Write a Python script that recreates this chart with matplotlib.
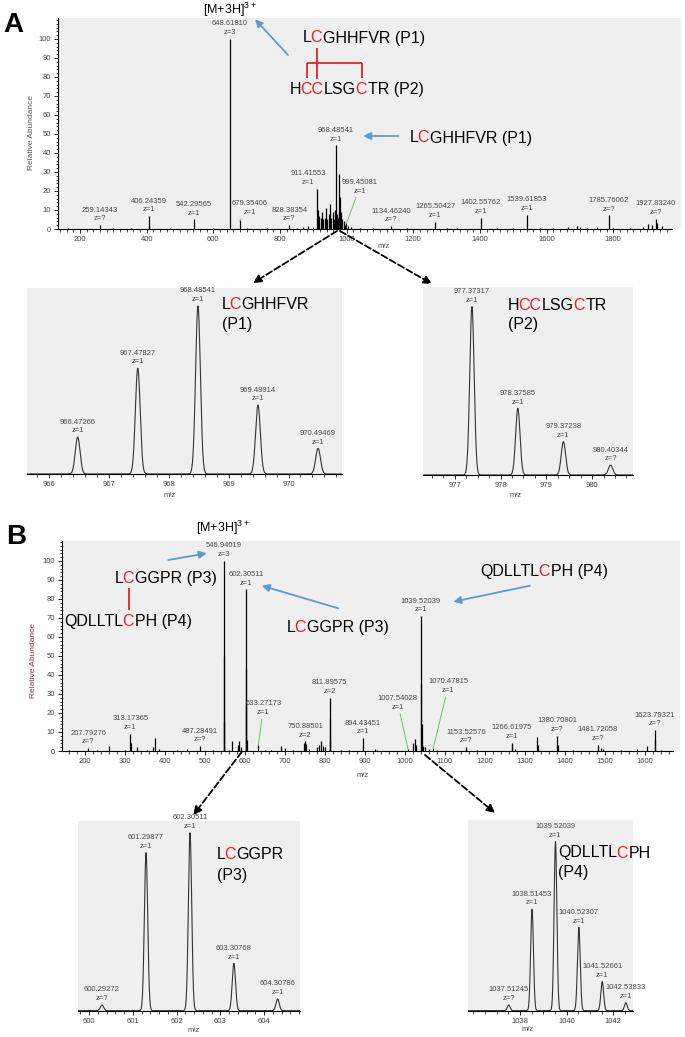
"""Two-panel MS figure: full scans with disulfide-linked peptides and isotope insets."""

import matplotlib

matplotlib.use("Agg")

import matplotlib.pyplot as plt  # noqa: E402
import numpy as np  # noqa: E402
from matplotlib.ticker import FixedLocator, MultipleLocator  # noqa: E402

plt.rcParams["font.family"] = ["Liberation Sans", "DejaVu Sans"]
plt.rcParams["mathtext.fontset"] = "custom"
plt.rcParams["mathtext.rm"] = "Liberation Sans"
plt.rcParams["mathtext.it"] = "Liberation Sans"

W, H = 685, 1037
RED = "#e8202a"
BLUE = "#5b9bd5"
GREEN = "#5cb85c"
BG = "#efefef"
LBL = "#4a4a4a"
SEQ_SIZE = 11.5

# ---- panel A, full scan ----
a_mz = [165, 259.14343, 300, 352, 406.24359, 407.2, 470, 542.29565, 600, 648.61810,
        679.35406, 700, 760, 828.38354, 850, 870, 885, 898,
        911.41553, 914, 918, 922, 926, 930, 934, 938, 942, 946, 950, 954, 958, 962,
        966, 968.48541, 971, 974, 977.37, 979.4, 983, 987, 991, 995, 999.45081,
        1005, 1012, 1040, 1080, 1134.46240, 1180, 1265.50427, 1300, 1330,
        1402.55762, 1450, 1500, 1539.61853, 1580, 1620, 1665, 1690, 1700, 1720,
        1750, 1785.76062, 1800, 1850, 1890, 1905, 1915, 1927.83240, 1932, 1945]
a_int = [0.5, 2, 0.5, 0.5, 6.7, 1.5, 0.5, 5, 0.5, 100,
         4.5, 0.5, 0.5, 2, 0.5, 1, 1.5, 1,
         21, 10, 7, 6, 9, 5, 6, 11, 5, 8, 13, 6, 9, 5,
         10, 44, 8, 6, 29, 17, 9, 5, 4, 2, 3,
         1.5, 1, 0.5, 0.5, 1.5, 0.5, 3.7, 0.5, 0.5,
         6, 0.5, 0.5, 7.6, 0.5, 0.5, 1, 1.5, 1, 0.5,
         1, 7.2, 0.5, 0.5, 1, 2.5, 2, 5.5, 3, 1.5]
a_label_mz = [259.14343, 406.24359, 542.29565, 648.61810, 679.35406, 828.38354,
              911.41553, 968.48541, 999.45081, 1134.46240, 1265.50427, 1402.55762,
              1539.61853, 1785.76062, 1927.83240]
a_label_z = ["?", "1", "1", "3", "1", "?", "1", "1", "1", "?", "1", "1", "1", "?", "?"]

# ---- panel A insets (isotope envelopes) ----
p1_mz = [966.47266, 967.47827, 968.48541, 969.48914, 970.49469]
p1_int = [22, 63, 100, 41, 15.3]
p1_z = ["1", "1", "1", "1", "1"]
p2_mz = [977.37317, 978.37585, 979.37238, 980.40344]
p2_int = [100, 39.6, 19.8, 5.9]
p2_z = ["1", "1", "1", "?"]

# ---- panel B, full scan ----
b_mz = [160, 207.79276, 230, 260, 300, 313.17365, 315, 330, 355, 370, 375, 385, 430,
        455, 487.28491, 520, 546.94019, 547.28, 547.61, 560, 568, 583, 586, 589,
        601.30, 602.30511, 603.31, 604.3, 633.27173, 650, 665, 690, 700, 720,
        748, 750.88501, 752, 760, 780, 785, 790, 795, 800, 811.89575, 812.4, 813,
        840, 860, 894.43451, 895.4, 925, 930, 1007.54028, 1020, 1025, 1027,
        1039.52039, 1040.52, 1041.5, 1045, 1050, 1060, 1070.47815, 1080,
        1153.52576, 1180, 1266.61975, 1268, 1275, 1330, 1332, 1380.70801, 1382,
        1420, 1481.72058, 1483, 1490, 1495, 1540, 1580, 1605, 1623.79321, 1625, 1640]
b_int = [0.5, 1.5, 0.5, 2.5, 0.5, 9, 4, 2, 0.5, 2, 7, 1, 0.5,
         1, 2.5, 0.5, 100, 50, 15, 0.5, 5, 3, 5, 2,
         43, 85, 24, 6, 3, 0.5, 0.5, 2.5, 1.5, 0.5,
         4, 5, 3.5, 1, 2, 3, 5, 2.5, 2, 28, 17, 5,
         0.5, 0.5, 6.7, 2, 1, 0.5, 1, 4, 6.5, 3,
         71, 35, 14, 2.5, 2, 1, 1.5, 0.5,
         2, 0.5, 4.4, 3, 1, 7.5, 3, 8, 3,
         0.5, 3.2, 1.5, 1.5, 1, 0.5, 1, 2.5, 11, 6, 0.5]
b_label_mz = [207.79276, 313.17365, 487.28491, 546.94019, 602.30511, 633.27173,
              750.88501, 811.89575, 894.43451, 1007.54028, 1039.52039, 1070.47815,
              1153.52576, 1266.61975, 1380.70801, 1481.72058, 1623.79321]
b_label_z = ["?", "1", "?", "3", "1", "1", "2", "2", "1", "1", "1", "1",
             "?", "1", "?", "?", "?"]

# ---- panel B insets ----
p3_mz = [600.29272, 601.29877, 602.30511, 603.30768, 604.30786]
p3_int = [3.2, 88.8, 100, 26.6, 6.6]
p3_z = ["?", "1", "1", "1", "1"]
p4_mz = [1037.51245, 1038.51453, 1039.52039, 1040.52307, 1041.52661, 1042.53833]
p4_int = [3.4, 60, 100, 49.3, 17.2, 4.7]
p4_z = ["?", "1", "1", "1", "1", "1"]


def px_axes(fig, left, top, right, bottom):
    return fig.add_axes([left / W, 1 - bottom / H, (right - left) / W, (bottom - top) / H])


def style_axes(ax, show_y=True):
    ax.set_facecolor(BG)
    for side in ("top", "right"):
        ax.spines[side].set_visible(False)
    ax.spines["bottom"].set_linewidth(0.8)
    ax.spines["left"].set_linewidth(0.8)
    ax.tick_params(which="major", labelsize=5.5, labelcolor="#444", length=3,
                   width=0.6, pad=2)
    ax.tick_params(which="minor", length=1.8, width=0.5)
    if not show_y:
        ax.spines["left"].set_visible(False)
        ax.set_yticks([])


def label_peaks(ax, mz, inten, lab_mz, lab_z, leaders=None):
    heights = dict(zip(mz, inten))
    leaders = leaders or {}
    for m, z in zip(lab_mz, lab_z):
        h = heights[m]
        text = f"{m:.5f}\nz={z}"
        if m in leaders:
            ax.annotate(text, xy=(m, h), xytext=leaders[m], textcoords="offset points",
                        ha="center", va="bottom", fontsize=5.5, color=LBL,
                        linespacing=1.35, annotation_clip=False,
                        arrowprops=dict(arrowstyle="-", color=GREEN, lw=0.6,
                                        shrinkA=0, shrinkB=0))
        else:
            ax.annotate(text, xy=(m, h), xytext=(0, 2), textcoords="offset points",
                        ha="center", va="bottom", fontsize=5.5, color=LBL,
                        linespacing=1.35, annotation_clip=False)


def full_scan(ax, mz, inten, xlim, ylim, spine_end, major, first_tick, last_tick,
              ylab_color, ylab_pos, xlab_pos):
    style_axes(ax)
    ax.vlines(mz, 0, inten, color="black", lw=0.9)
    ax.set_xlim(*xlim)
    ax.set_ylim(*ylim)
    ax.spines["bottom"].set_bounds(xlim[0], spine_end)
    ax.spines["left"].set_bounds(0, ylim[1])
    ax.set_xticks(np.arange(first_tick, last_tick + 1, major))
    ax.xaxis.set_minor_locator(FixedLocator(np.arange(first_tick - 60, spine_end, 20)))
    ax.set_yticks(np.arange(0, 101, 10))
    ax.yaxis.set_minor_locator(MultipleLocator(2))
    ax.set_ylabel("Relative Abundance", fontsize=6, color=ylab_color)
    ax.yaxis.set_label_coords(*ylab_pos)
    ax.set_xlabel("m/z", fontsize=5.5, color=LBL)
    ax.xaxis.set_label_coords(*xlab_pos)
    ax.xaxis.label.set_va("center")


def isotope_inset(ax, mz, inten, z, xlim, ytop, sigma, majors, minor, xlab_pos):
    style_axes(ax, show_y=False)
    grid = np.linspace(xlim[0], xlim[1], 3000)
    prof = np.zeros_like(grid)
    for m, h in zip(mz, inten):
        prof += h * np.exp(-0.5 * ((grid - m) / sigma) ** 2)
    ax.plot(grid, prof, color="#333333", lw=0.8)
    ax.set_xlim(*xlim)
    ax.set_ylim(0, ytop)
    ax.set_xticks(majors)
    ax.xaxis.set_minor_locator(MultipleLocator(minor))
    label_peaks(ax, mz, inten, mz, z)
    ax.set_xlabel("m/z", fontsize=5.5, color=LBL)
    ax.xaxis.set_label_coords(*xlab_pos)
    ax.xaxis.label.set_va("center")


# ---- text measurement: render strings off-screen and compare pixels ----
_dark_cache = {}


def render_dark(s, size=SEQ_SIZE):
    """Darkness image of string s drawn with baseline alignment at display x=10."""
    key = (s, size)
    if key not in _dark_cache:
        f = plt.figure(figsize=(4, 0.5), dpi=100)
        f.text(10 / 400, 0.3, s, fontsize=size, va="baseline", ha="left")
        f.canvas.draw()
        img = np.asarray(f.canvas.buffer_rgba())[:, :, 0].astype(float)
        plt.close(f)
        _dark_cache[key] = 255.0 - img
    return _dark_cache[key]


def ink_span(s, size=SEQ_SIZE):
    cols = np.where(render_dark(s, size).max(axis=0) > 85)[0]
    return cols.min() - 10, cols.max() + 1 - 10


def seg_shift(prefix, s, size=SEQ_SIZE):
    """Pixel offset at which s, drawn alone, matches its place inside prefix + s."""
    resid = np.clip(render_dark(prefix + s, size) - render_dark(prefix, size), 0, None)
    seg = render_dark(s, size)
    n = seg.shape[1]
    best_k, best_err = 0, None
    for k in range(0, 250):
        moved = np.zeros_like(seg)
        moved[:, k:] = seg[:, :n - k]
        err = np.abs(resid - moved).sum()
        if best_err is None or err < best_err:
            best_k, best_err = k, err
    return best_k


fig = plt.figure(figsize=(W / 100, H / 100), dpi=100)
fig.patch.set_facecolor("white")

# panel A main
axA = px_axes(fig, 58, 18, 681, 229)
full_scan(axA, a_mz, a_int, (134, 2003), (0, 111), 1976, 200, 200, 1800, "#555555",
          (-0.037, 0.457), (0.523, -0.085))
label_peaks(axA, a_mz, a_int, a_label_mz, a_label_z,
            leaders={679.35406: (7.4, 3.2), 911.41553: (-6.5, 2.2),
                     999.45081: (9.7, 20.7)})

# panel B main
axB = px_axes(fig, 62, 541, 680, 751)
full_scan(axB, b_mz, b_int, (142.5, 1687.5), (0, 110.5), 1669, 100, 200, 1600,
          "#8b3a3a", (-0.041, 0.433), (0.487, -0.119))
label_peaks(axB, b_mz, b_int, b_label_mz, b_label_z,
            leaders={633.27173: (3.6, 21), 1007.54028: (-7.4, 27.4),
                     1070.47815: (10.9, 39)})

# insets
ax1 = px_axes(fig, 26.7, 288, 341.7, 474)
isotope_inset(ax1, p1_mz, p1_int, p1_z, (965.62, 970.89), 110.7, 0.04,
              [966, 967, 968, 969, 970], 0.2, (0.455, -0.117))
ax2 = px_axes(fig, 423.3, 287.3, 633.3, 475)
isotope_inset(ax2, p2_mz, p2_int, p2_z, (976.31, 980.90), 111.5, 0.048,
              [977, 978, 979, 980], 0.25, (0.44, -0.107))
ax3 = px_axes(fig, 78.3, 821, 300, 1010.7)
isotope_inset(ax3, p3_mz, p3_int, p3_z, (599.75, 604.82), 106.6, 0.038,
              [600, 601, 602, 603, 604], 0.2, (0.519, -0.105))
ax4 = px_axes(fig, 468.3, 820, 633.3, 1010.7)
isotope_inset(ax4, p4_mz, p4_int, p4_z, (1035.78, 1042.86), 112.8, 0.06,
              [1038, 1040, 1042], 0.5, (0.36, -0.1))

# overlay in pixel coordinates for arrows and sequence labels
ov = fig.add_axes([0, 0, 1, 1])
ov.set_xlim(0, W)
ov.set_ylim(H, 0)
ov.axis("off")
ov.set_zorder(10)
ov.patch.set_alpha(0)

CAP_HALF = 5.8  # half the capital height in pixels, centre -> baseline


def seq_text(x, y, parts, size=SEQ_SIZE):
    """Peptide sequence with coloured cysteines; returns ink spans of each part."""
    spans = []
    prefix = ""
    base = round(x)
    for s, c in parts:
        xs = base + (seg_shift(prefix, s, size) if prefix else 0)
        ov.text(xs, y + CAP_HALF, s, color=c, fontsize=size, va="baseline", ha="left")
        a, b = ink_span(s, size)
        spans.append((xs + a, xs + b))
        prefix += s
    return spans


def P1(tail=" (P1)"):
    return [("L", "black"), ("C", RED), ("GHHFVR" + tail, "black")]


def P2(tail=" (P2)"):
    return [("H", "black"), ("CC", RED), ("LSG", "black"), ("C", RED), ("TR" + tail, "black")]


def P3(tail=" (P3)"):
    return [("L", "black"), ("C", RED), ("GGPR" + tail, "black")]


def P4(tail=" (P4)"):
    return [("QDLLTL", "black"), ("C", RED), ("PH" + tail, "black")]


ov.text(13, 25, "A", fontsize=20, fontweight="bold", ha="center", va="center")
ov.text(16, 537, "B", fontsize=20, fontweight="bold", ha="center", va="center")
ov.text(230, 10, "[M+3H]$^{3+}$", fontsize=9, ha="center", va="center")
ov.text(223.3, 528.3, "[M+3H]$^{3+}$", fontsize=9, ha="center", va="center")

a_p1 = seq_text(303, 36.7, P1())
a_p2 = seq_text(290, 88.3, P2())
seq_text(410, 136.7, P1())
b_p3 = seq_text(115, 577.3, P3())
seq_text(64, 620, P4())
seq_text(286.7, 626, P3())
seq_text(480, 570, P4())

seq_text(221.7, 303.3, P1(""))
ov.text(221.7, 322.7 + CAP_HALF, "(P1)", fontsize=SEQ_SIZE, va="baseline")
seq_text(508.3, 304, P2(""))
ov.text(508.3, 323.3 + CAP_HALF, "(P2)", fontsize=SEQ_SIZE, va="baseline")
seq_text(216.7, 853.3, P3(""))
ov.text(216.7, 874 + CAP_HALF, "(P3)", fontsize=SEQ_SIZE, va="baseline")
seq_text(558.3, 851.7, P4(""))
ov.text(558.3, 871.7 + CAP_HALF, "(P4)", fontsize=SEQ_SIZE, va="baseline")

blue = dict(arrowstyle="-|>", color=BLUE, lw=1.3, mutation_scale=11,
            shrinkA=0, shrinkB=0)
for tail, head in [((288, 55), (255, 19.3)), ((398.3, 136), (363.3, 136)),
                   ((168.3, 560), (206.7, 553.3)), ((338.3, 608.3), (261.7, 585.7)),
                   ((530, 585.7), (453.3, 601.7))]:
    ov.annotate("", xy=head, xytext=tail, arrowprops=blue)

dashed = dict(arrowstyle="-|>", color="black", lw=1.3, linestyle="--",
              mutation_scale=12, shrinkA=0, shrinkB=0)
for tail, head in [((337, 231), (253, 283)), ((340, 231), (432, 284)),
                   ((241.7, 752), (193.3, 815)), ((425, 755), (495, 813))]:
    ov.annotate("", xy=head, xytext=tail, arrowprops=dashed)


# disulfide bonds, placed on the rendered cysteine glyphs
def span_x(span, frac=0.5):
    return span[0] + frac * (span[1] - span[0])


bond = dict(color=RED, lw=1.3, solid_capstyle="butt")
x_p1 = span_x(a_p1[1])
x_c1 = span_x(a_p2[1], 0.25)
x_c3 = span_x(a_p2[3])
ov.plot([x_p1, x_p1], [48.3, 79], **bond)
ov.plot([x_c1, x_c3], [63.3, 63.3], **bond)
ov.plot([x_c1, x_c1], [63.3, 78], **bond)
ov.plot([x_c3, x_c3], [63.3, 78], **bond)
x_p3 = span_x(b_p3[1])
ov.plot([x_p3, x_p3], [588.3, 610], **bond)

fig.savefig("out.png", dpi=100, facecolor="white")
plt.close(fig)
